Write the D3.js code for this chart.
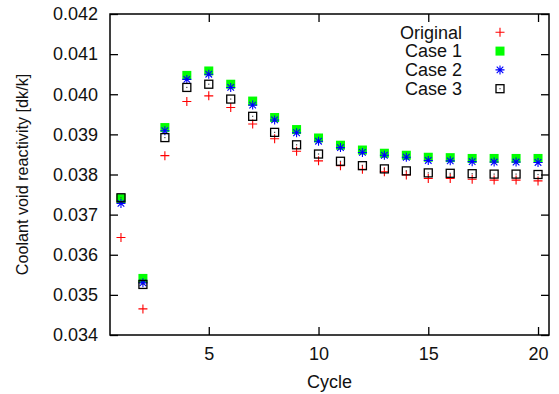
<!DOCTYPE html>
<html>
<head>
<meta charset="utf-8">
<script src="https://cdn.jsdelivr.net/npm/d3@7"></script>
<style>
  body { margin: 0; background: #fff; }
  svg { display: block; font-family: "Liberation Sans", Arial, sans-serif; }
</style>
</head>
<body>
<svg width="559" height="394"></svg>
<script>
// data
var cycles = d3.range(1, 21);
var original = [0.03643, 0.03465, 0.03847, 0.03982, 0.03996, 0.03967, 0.03926, 0.03889, 0.03858, 0.03834,
                0.03822, 0.03813, 0.03807, 0.03799, 0.03790, 0.03790, 0.03788, 0.03786, 0.03786, 0.03784];
var case1 = [0.03740, 0.03541, 0.03917, 0.04047, 0.04058, 0.04025, 0.03983, 0.03942, 0.03912, 0.03891,
             0.03873, 0.03861, 0.03853, 0.03848, 0.03843, 0.03842, 0.03840, 0.03840, 0.03840, 0.03840];
var case2 = [0.03728, 0.03530, 0.03909, 0.04037, 0.04050, 0.04017, 0.03973, 0.03936, 0.03904, 0.03883,
             0.03867, 0.03855, 0.03848, 0.03843, 0.03835, 0.03834, 0.03832, 0.03831, 0.03831, 0.03830];
var case3 = [0.03742, 0.03526, 0.03892, 0.04017, 0.04025, 0.03988, 0.03945, 0.03905, 0.03874, 0.03851,
             0.03833, 0.03822, 0.03814, 0.03809, 0.03804, 0.03803, 0.03802, 0.03801, 0.03801, 0.03800];
var seriesNames = ["Original", "Case 1", "Case 2", "Case 3"];
var xTicks = [5, 10, 15, 20];
var yTicks = [0.034, 0.035, 0.036, 0.037, 0.038, 0.039, 0.040, 0.041, 0.042];

var svg = d3.select("svg"),
    margin = {top: 14, right: 10, bottom: 59, left: 110},
    width = 559 - margin.left - margin.right,
    height = 394 - margin.top - margin.bottom,
    g = svg.append("g").attr("transform", "translate(" + margin.left + "," + margin.top + ")");

var fontSize = 18;

var x = d3.scaleLinear().domain([0.5, 20.5]).range([0, width]);
var y = d3.scaleLinear().domain([0.034, 0.042]).range([height, 0]);

// axes (ticks pointing inward, mirrored on top/right)
function styleAxis(sel) {
  sel.select(".domain").remove();
  sel.selectAll(".tick line").attr("stroke", "#000").attr("stroke-width", 1.3);
  sel.selectAll("text").attr("font-size", fontSize).attr("fill", "#111");
}

g.append("g")
  .call(d3.axisLeft(y).tickValues(yTicks).tickFormat(d3.format(".3f")).tickSize(-8).tickPadding(12))
  .call(styleAxis);

g.append("g")
  .attr("transform", "translate(0," + height + ")")
  .call(d3.axisBottom(x).tickValues(xTicks).tickFormat(d3.format("d")).tickSize(-8).tickPadding(12))
  .call(styleAxis);

g.append("g")
  .attr("transform", "translate(" + width + ",0)")
  .call(d3.axisRight(y).tickValues(yTicks).tickFormat("").tickSize(-8))
  .call(styleAxis);

g.append("g")
  .call(d3.axisTop(x).tickValues(xTicks).tickFormat("").tickSize(-8))
  .call(styleAxis);

g.append("rect")
  .attr("width", width).attr("height", height)
  .attr("fill", "none").attr("stroke", "#000").attr("stroke-width", 1.5);

// markers
var plusPath = "M-4.5,0H4.5M0,-4.5V4.5";
var starPath = "M-4.5,0H4.5M0,-4.5V4.5M-3.3,-3.3L3.3,3.3M-3.3,3.3L3.3,-3.3";

function drawMarker(sel, k) {
  if (k === 0) {
    sel.append("path").attr("d", plusPath).attr("stroke", "#ff0000").attr("stroke-width", 1.1).attr("fill", "none");
  } else if (k === 1) {
    sel.append("rect").attr("x", -4.5).attr("y", -4.5).attr("width", 9).attr("height", 9).attr("fill", "#00ff00");
  } else if (k === 2) {
    sel.append("path").attr("d", starPath).attr("stroke", "#0000ff").attr("stroke-width", 1.1).attr("fill", "none");
  } else {
    sel.append("rect").attr("x", -4).attr("y", -4).attr("width", 8).attr("height", 8)
      .attr("fill", "none").attr("stroke", "#000").attr("stroke-width", 1.3);
    sel.append("rect").attr("x", -0.6).attr("y", -0.6).attr("width", 1.2).attr("height", 1.2).attr("fill", "#444");
  }
}

var allSeries = [original, case1, case2, case3];

allSeries.forEach(function(vals, k) {
  g.append("g")
    .selectAll("g")
    .data(vals)
    .enter().append("g")
    .attr("transform", function(d, i) { return "translate(" + x(cycles[i]) + "," + y(d) + ")"; })
    .each(function() { drawMarker(d3.select(this), k); });
});

// legend
var legend = g.append("g")
  .selectAll("g")
  .data(seriesNames)
  .enter().append("g")
  .attr("transform", function(d, i) { return "translate(0," + (18.3 + i * 18.8) + ")"; });

legend.append("text")
  .attr("x", 352)
  .attr("dy", "0.35em")
  .attr("text-anchor", "end")
  .attr("font-size", fontSize)
  .attr("fill", "#111")
  .text(function(d) { return d; });

legend.append("g")
  .attr("transform", "translate(390,0)")
  .each(function(d, i) { drawMarker(d3.select(this), i); });

// axis titles
svg.append("text")
  .attr("x", margin.left + width / 2)
  .attr("y", 388)
  .attr("text-anchor", "middle")
  .attr("font-size", fontSize)
  .attr("fill", "#111")
  .text("Cycle");

svg.append("text")
  .attr("transform", "translate(28," + (margin.top + height / 2) + ") rotate(-90)")
  .attr("text-anchor", "middle")
  .attr("font-size", 16.2)
  .attr("fill", "#111")
  .text("Coolant void reactivity [dk/k]");
</script>
</body>
</html>
